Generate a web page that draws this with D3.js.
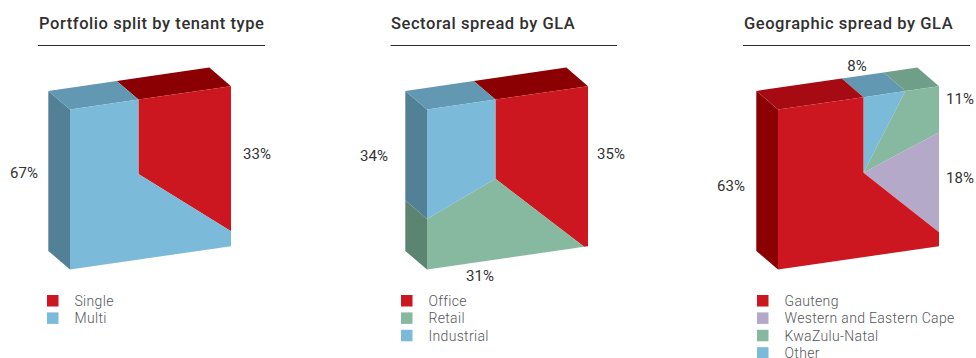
<!DOCTYPE html>
<html>
<head>
<meta charset="utf-8">
<script src="https://cdn.jsdelivr.net/npm/d3@7/dist/d3.min.js"></script>
<style>
  html, body { margin: 0; padding: 0; background: #fff; overflow: hidden; }
  svg { display: block; }
  text { font-family: Roboto, "Noto Sans", sans-serif; }
  .title { font-size: 16.5px; font-weight: 500; fill: #303030; letter-spacing: 0.56px; }
  .value { font-size: 15px; fill: #333; letter-spacing: 0.1px; text-anchor: middle; dominant-baseline: central; }
  .legend { font-size: 14px; font-weight: 300; fill: #55565a; letter-spacing: 0.32px; }
</style>
</head>
<body>
<svg id="chart" width="976" height="358"></svg>
<script>
// Category names and percentage shares for each block.
const tenantCategories = ["Single", "Multi"];
const tenantValues = [33, 67];
const sectorCategories = ["Office", "Retail", "Industrial"];
const sectorValues = [35, 31, 34];
const regionCategories = ["Gauteng", "Western and Eastern Cape", "KwaZulu-Natal", "Other"];
const regionValues = [63, 18, 11, 8];

// Fill colours per category: front, top and side faces of the block.
const shades = {
  red:   { front: "#cc1720", top: "#8b0003", side: "#8b0003" },
  blue:  { front: "#7bbbd9", top: "#6298b1", side: "#528197" },
  green: { front: "#87b9a0", top: "#6f9f89", side: "#5b8570" },
  lilac: { front: "#b5a9c9", top: "#9a8fae", side: "#8a7fa0" }
};

// Layout of the three panels; hub is the pie centre on the block's front face (0..1).
const panels = [
  {
    title: "Portfolio split by tenant type", categories: tenantCategories, values: tenantValues,
    colors: ["red", "blue"], sweep: [0, 1],
    titleX: 39, ruleX: [38, 265], faceX: 70, hub: [0.425, 0.465], tilt: 0.217,
    legendX: 47, labels: [[257, 154], [24, 173]]
  },
  {
    title: "Sectoral spread by GLA", categories: sectorCategories, values: sectorValues,
    colors: ["red", "green", "blue"], sweep: [0, 1, 2],
    titleX: 391, ruleX: [390.5, 617], faceX: 427, hub: [0.425, 0.495], tilt: 0.19,
    legendX: 401, labels: [[611, 154], [480, 276], [374, 156]]
  },
  {
    title: "Geographic spread by GLA", categories: regionCategories, values: regionValues,
    colors: ["red", "lilac", "green", "blue"], sweep: [3, 2, 1, 0],
    titleX: 744, ruleX: [743, 970], faceX: 778, hub: [0.531, 0.473], tilt: 0,
    legendX: 757, labels: [[731, 186], [960, 178], [960, 99], [857, 66]],
    topOverride: { red: "#a60a12" }
  }
];

const faceWidth = 161, faceHeight = 160, faceRise = 23.3;
const depth = [-21.7, -18.6];
const titleY = 29, ruleY = 45.5;
const legendTop = 295, legendStep = 17.4, legendSwatch = 11.5;

const svg = d3.select("#chart");
const EPS = 1e-6;

// Where a ray leaving the hub at a pie angle meets the edge of the unit face.
function edgePoint(angle, hub, tilt) {
  const du = Math.sin(angle);
  const dv = -Math.cos(angle) + tilt * Math.sin(angle);
  const limits = [];
  if (du > EPS) limits.push((1 - hub[0]) / du);
  if (du < -EPS) limits.push(-hub[0] / du);
  if (dv > EPS) limits.push((1 - hub[1]) / dv);
  if (dv < -EPS) limits.push(-hub[1] / dv);
  const t = Math.min(...limits);
  return [hub[0] + t * du, hub[1] + t * dv];
}

// Position around the square's edge: top 0-1, right 1-2, bottom 2-3, left 3-4.
function perimeter(p) {
  const [u, v] = p;
  if (v < EPS) return u;
  if (u > 1 - EPS) return 1 + v;
  if (v > 1 - EPS) return 3 - u;
  return 4 - v;
}
function corner(k) {
  return [[0, 0], [1, 0], [1, 1], [0, 1]][((k % 4) + 4) % 4];
}

panels.forEach(panel => {
  const g = svg.append("g");
  const x = d3.scaleLinear().domain([0, 1]).range([panel.faceX, panel.faceX + faceWidth]);
  const yTop = d3.scaleLinear().domain([0, 1]).range([109.5, 109.5 - faceRise]);
  const project = ([u, v]) => [x(u), yTop(u) + v * faceHeight];
  const back = ([px, py]) => [px + depth[0], py + depth[1]];
  const path = pts => d3.line()(pts) + "Z";

  const items = panel.sweep.map(i => ({ index: i, value: panel.values[i] }));
  const arcs = d3.pie().sort(null).value(d => d.value)(items);

  const sideLayer = g.append("g"), topLayer = g.append("g"), frontLayer = g.append("g");

  arcs.forEach((arc, n) => {
    const shade = shades[panel.colors[arc.data.index]];
    const name = panel.colors[arc.data.index];
    const startEdge = edgePoint(arc.startAngle, panel.hub, panel.tilt);
    const endEdge = edgePoint(arc.endAngle, panel.hub, panel.tilt);

    // Unroll the perimeter so it rises steadily from the twelve o'clock seam.
    const origin = panel.hub[0];
    const unroll = q => (q < origin - EPS ? q + 4 : q);
    const from = unroll(perimeter(startEdge));
    const to = n === arcs.length - 1 ? origin + 4 : unroll(perimeter(endEdge));

    const rim = [startEdge];
    for (let k = Math.floor(from) + 1; k < to - EPS; k++) {
      if (k > from + EPS) rim.push(corner(k));
    }
    rim.push(endEdge);

    frontLayer.append("path")
      .attr("d", path([panel.hub, ...rim].map(project)))
      .attr("fill", shade.front);

    // Extrude whichever rim segments run along the visible top and left edges.
    d3.pairs(rim).forEach(([a, b]) => {
      const onTop = a[1] < EPS && b[1] < EPS;
      const onLeft = a[0] < EPS && b[0] < EPS;
      if (!onTop && !onLeft) return;
      const pa = project(a), pb = project(b);
      const quad = path([pa, pb, back(pb), back(pa)]);
      if (onTop) {
        const override = panel.topOverride && panel.topOverride[name];
        topLayer.append("path").attr("d", quad).attr("fill", override || shade.top);
      } else {
        sideLayer.append("path").attr("d", quad).attr("fill", shade.side);
      }
    });
  });

  // Heading and the rule under it.
  g.append("text").attr("class", "title").attr("x", panel.titleX).attr("y", titleY).text(panel.title);
  g.append("line")
    .attr("x1", panel.ruleX[0]).attr("x2", panel.ruleX[1])
    .attr("y1", ruleY).attr("y2", ruleY)
    .attr("stroke", "#2b2b2b").attr("stroke-width", 1);

  // Percentage labels beside the block.
  panel.values.forEach((v, i) => {
    g.append("text").attr("class", "value")
      .attr("x", panel.labels[i][0]).attr("y", panel.labels[i][1])
      .text(v + "%");
  });

  // Legend rows.
  panel.categories.forEach((c, i) => {
    const rowY = legendTop + i * legendStep;
    g.append("rect")
      .attr("x", panel.legendX).attr("y", rowY)
      .attr("width", legendSwatch).attr("height", legendSwatch)
      .attr("fill", shades[panel.colors[i]].front);
    g.append("text").attr("class", "legend")
      .attr("x", panel.legendX + 27.5).attr("y", rowY + 11)
      .text(c);
  });
});
</script>
</body>
</html>
